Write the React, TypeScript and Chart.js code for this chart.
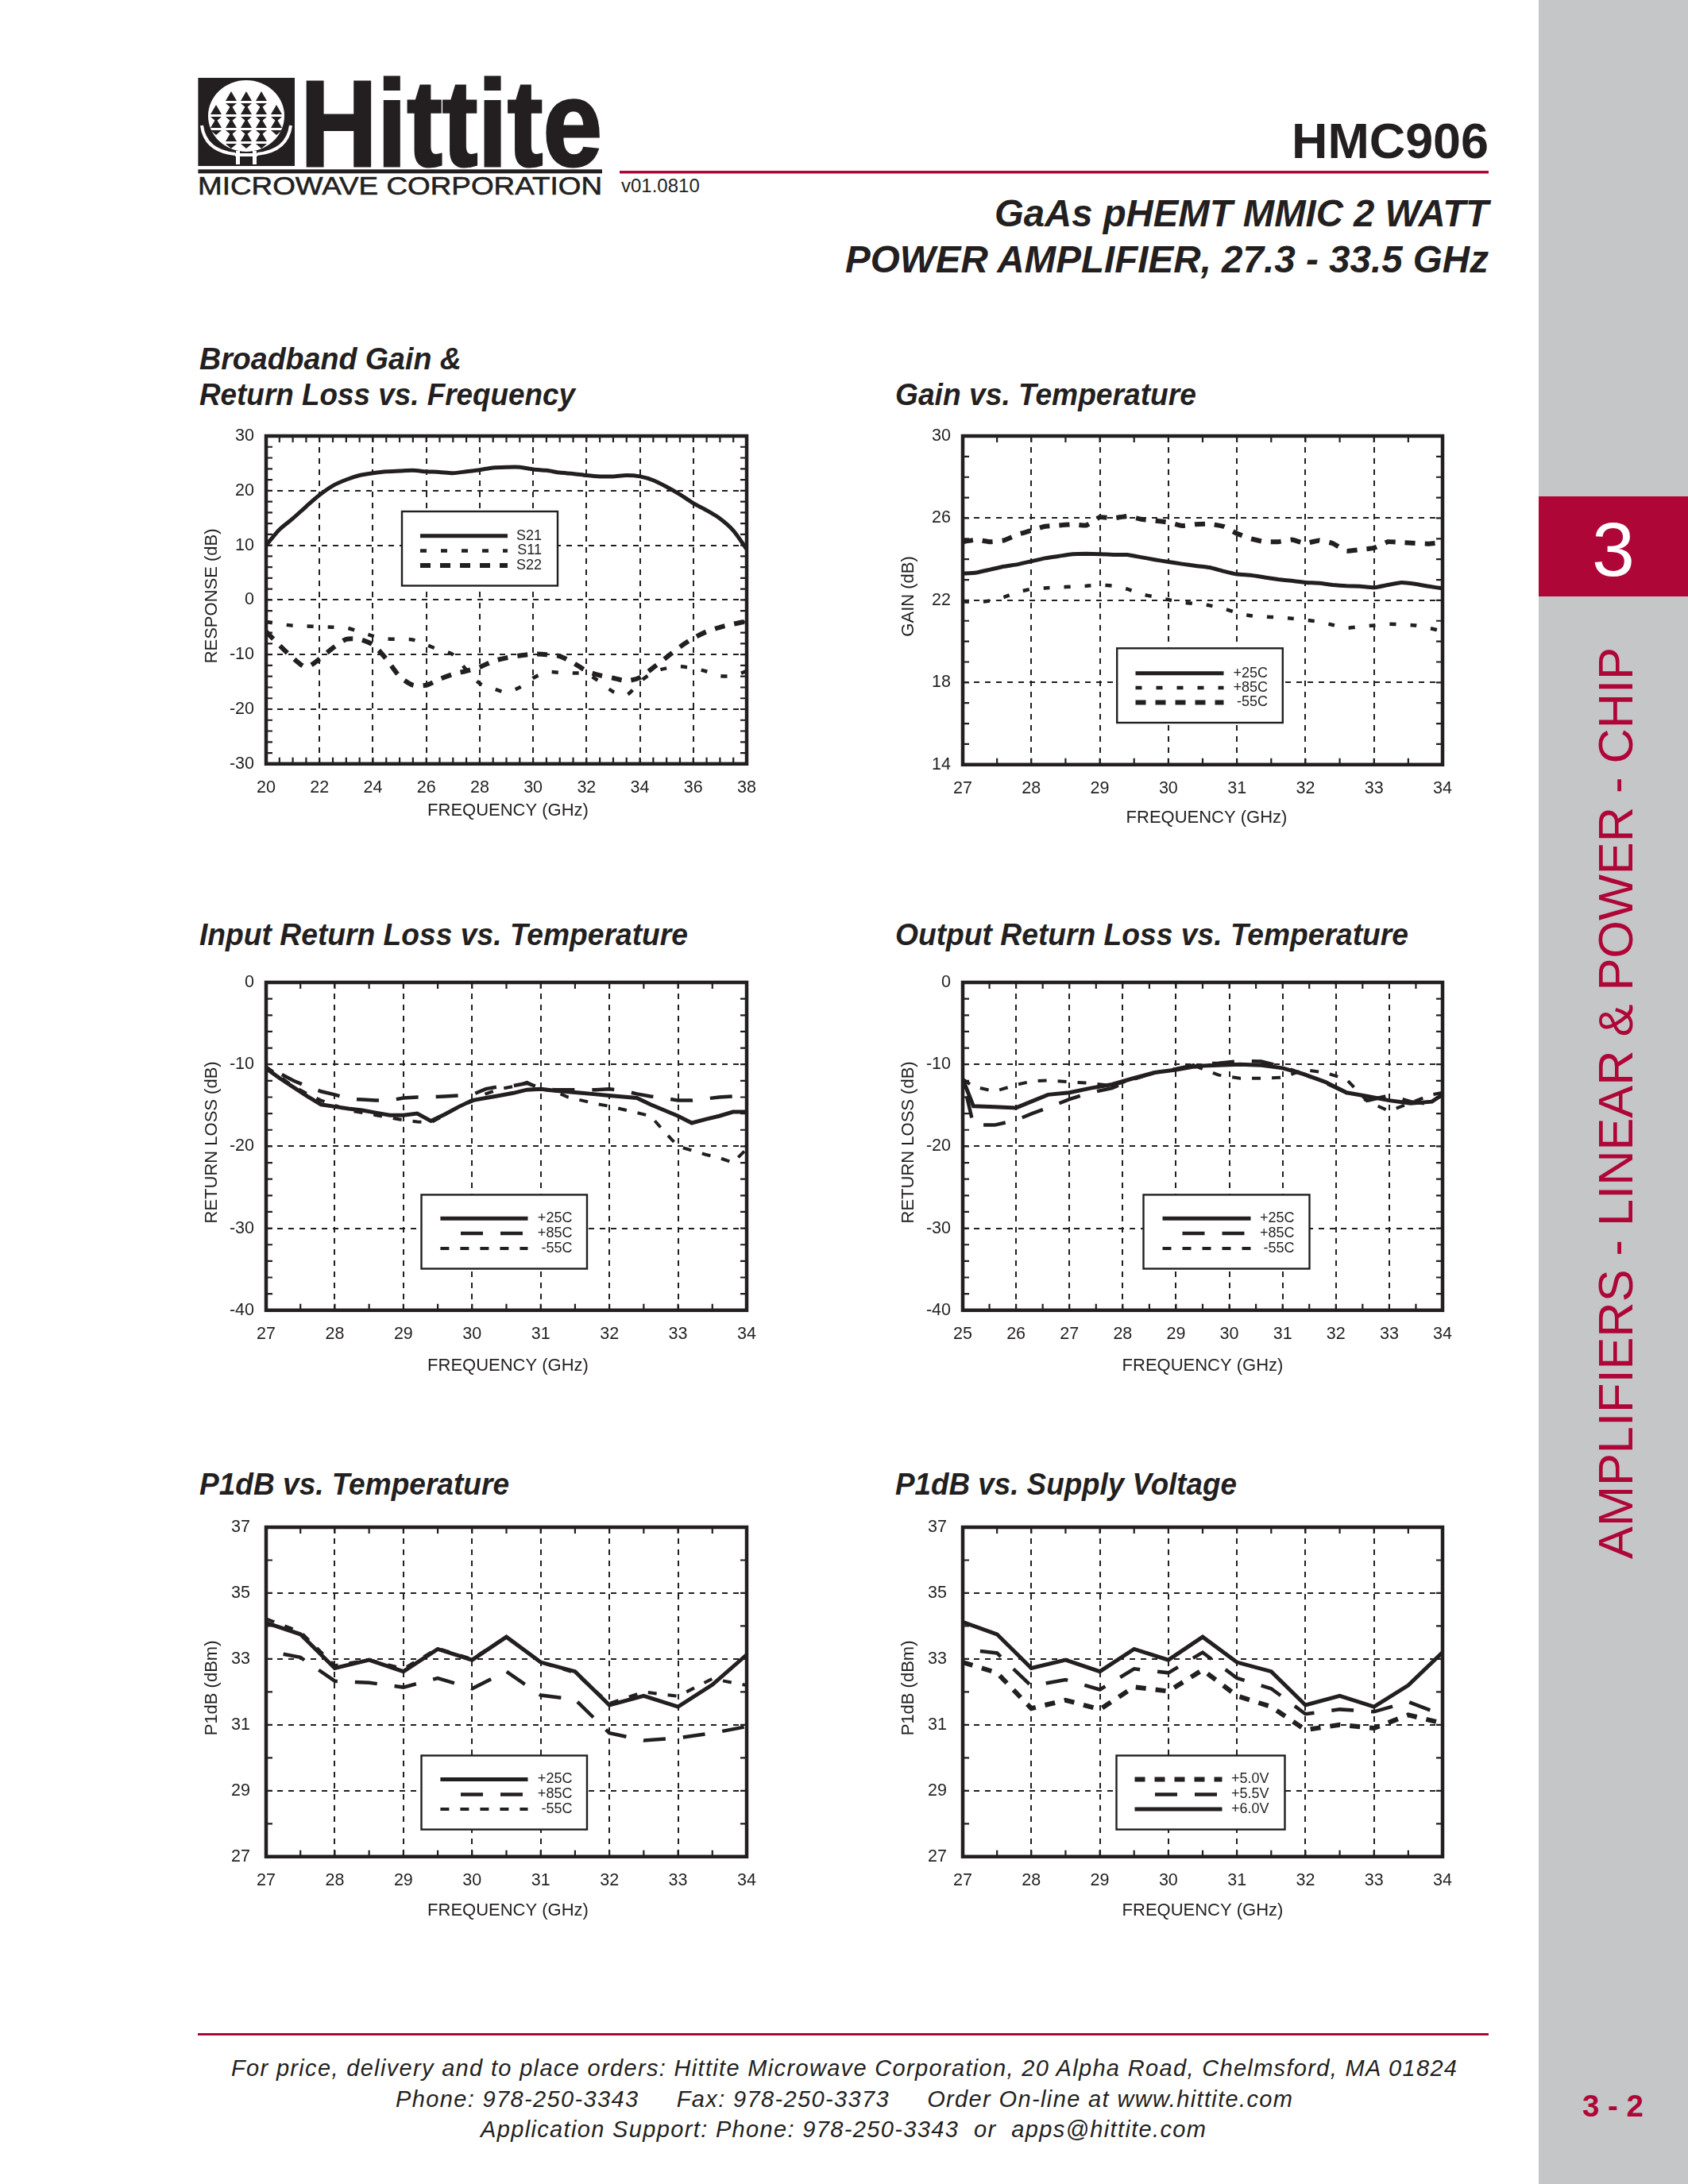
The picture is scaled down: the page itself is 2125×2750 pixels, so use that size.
import React, { useEffect, useRef } from "react";
import { Chart, registerables } from "chart.js";

Chart.register(...registerables);

const INK = "#231F20";
const RED = "#AF0638";
const SIDE = "#C5C6C8";
const SANS = '"Liberation Sans", Arial, sans-serif';

// ---------- data ----------
const freqBroad = [20,20.5,21,21.5,22,22.5,23,23.5,24,24.5,25,25.5,26,26.5,27,27.5,28,28.5,29,29.5,30,30.5,31,31.5,32,32.5,33,33.5,34,34.5,35,35.5,36,36.5,37,37.5,38];
const broadS21 = [10,12.9,14.9,17.1,19.2,20.9,22,22.8,23.2,23.5,23.6,23.7,23.5,23.4,23.2,23.5,23.8,24.2,24.3,24.3,23.9,23.7,23.3,23.1,22.8,22.6,22.6,22.8,22.6,21.9,20.7,19.3,17.7,16.4,14.9,12.7,9.3];
const broadS11 = [-4,-4.4,-4.7,-4.8,-4.9,-5,-5.1,-5.8,-6.6,-7.1,-7.2,-7.3,-8.2,-9.2,-10,-12.8,-15.3,-16.2,-16.9,-16,-14.3,-13.2,-13.3,-13.4,-13.5,-15,-16.8,-17.4,-15,-13.2,-12.5,-12.2,-12.5,-13.1,-13.9,-13.9,-13];
const broadS22 = [-5.8,-8.3,-10.6,-12.3,-10.8,-8.8,-7.2,-7.2,-8.2,-10.8,-14,-15.6,-15.6,-14.5,-13.6,-13,-12.3,-11.2,-10.6,-10.2,-9.9,-10,-10.3,-11.5,-13,-13.8,-14.3,-14.8,-14.2,-12.4,-10.5,-8.6,-7,-5.8,-5,-4.4,-3.9];

const freqFine = [27,27.2,27.4,27.6,27.8,28,28.2,28.4,28.6,28.8,29,29.2,29.4,29.6,29.8,30,30.2,30.4,30.6,30.8,31,31.2,31.4,31.6,31.8,32,32.2,32.4,32.6,32.8,33,33.2,33.4,33.6,33.8,34];
const gain25 = [23.3,23.35,23.5,23.65,23.75,23.9,24.05,24.15,24.25,24.27,24.25,24.22,24.22,24.1,23.98,23.87,23.77,23.68,23.6,23.42,23.27,23.22,23.12,23.02,22.95,22.87,22.84,22.75,22.7,22.68,22.62,22.75,22.87,22.8,22.68,22.58];
const gain85 = [21.95,21.9,21.98,22.15,22.4,22.55,22.6,22.63,22.67,22.7,22.75,22.7,22.55,22.3,22.17,22.03,21.9,21.83,21.75,21.6,21.4,21.25,21.2,21.17,21.12,21.05,20.95,20.8,20.65,20.72,20.78,20.85,20.82,20.78,20.65,20.5];
const gainM55 = [24.85,24.95,24.85,24.92,25.2,25.4,25.6,25.65,25.7,25.65,26.05,26,26.1,25.95,25.88,25.8,25.63,25.7,25.72,25.6,25.25,25,24.85,24.85,24.95,24.77,24.92,24.77,24.4,24.47,24.55,24.85,24.82,24.78,24.75,24.82];

const inRl25 = [-10.5,-11.7,-12.8,-13.9,-14.9,-15.15,-15.4,-15.6,-15.9,-16.2,-16.2,-16,-16.9,-16.1,-15.2,-14.4,-14.1,-13.8,-13.5,-13.1,-13,-13.2,-13.35,-13.5,-13.65,-13.8,-13.95,-14.1,-14.9,-15.6,-16.3,-17.15,-16.7,-16.3,-15.8,-15.8];
const inRl85 = [-10.3,-11.1,-12,-12.7,-13.3,-13.7,-14.2,-14.3,-14.4,-14.4,-14.1,-14,-14,-13.9,-13.8,-13.7,-13,-12.7,-12.6,-12.3,-12.9,-13.1,-13.1,-13.1,-13.1,-13,-13.2,-13.6,-13.9,-14.1,-14.4,-14.4,-14.2,-14,-13.9,-13.3];
const inRlM55 = [-10.3,-11.5,-12.7,-13.6,-14.4,-15,-15.6,-15.9,-16.2,-16.5,-16.8,-17,-17.1,-16.2,-15.2,-14.5,-13.6,-13,-12.7,-12.2,-13,-13.3,-14,-14.4,-14.8,-15.1,-15.5,-15.9,-16.3,-18.2,-20,-20.5,-21,-21.4,-22,-20.3];

const freqOut = [25,25.2,25.6,26,26.3,26.6,27,27.4,27.8,28.2,28.6,29,29.4,29.8,30.2,30.6,31,31.4,31.8,32.2,32.6,33,33.4,33.8,34];
const outRl25 = [-11.8,-15.1,-15.2,-15.3,-14.5,-13.7,-13.45,-12.9,-12.45,-11.7,-11,-10.65,-10.2,-10.1,-10,-10.1,-10.45,-11.2,-12.15,-13.45,-13.9,-14.4,-14.75,-14.55,-13.7];
const outRl85 = [-11.8,-17.4,-17.4,-16.8,-16,-15.3,-14.25,-13.45,-12.9,-11.8,-11,-10.55,-10,-9.85,-9.6,-9.65,-10.3,-11.2,-12.25,-13.45,-14.4,-13.8,-14.55,-14.85,-14.8];
const outRlM55 = [-11.8,-12.7,-13.3,-12.5,-12.05,-11.95,-12.15,-12.3,-12.6,-11.8,-11,-10.55,-10.3,-11.3,-11.7,-11.7,-11.6,-10.65,-11,-11.85,-14.55,-15.7,-14.7,-13.7,-13.45];

const freqHalf = [27,27.5,28,28.5,29,29.5,30,30.5,31,31.5,32,32.5,33,33.5,34];
const p1dB25 = [34.1,33.75,32.72,32.97,32.62,33.3,32.97,33.67,32.9,32.62,31.6,31.88,31.55,32.22,33.13];
const p1dB85 = [33.25,33.05,32.33,32.28,32.14,32.42,32.1,32.62,31.9,31.77,30.75,30.53,30.6,30.75,30.95];
const p1dBM55 = [34.22,33.82,32.8,32.97,32.7,33.32,33,33.67,32.9,32.58,31.65,32,31.87,32.4,32.2];

const p1dB5V0 = [32.9,32.58,31.5,31.75,31.47,32.15,32.02,32.67,31.88,31.55,30.85,31,30.9,31.3,31.05];
const p1dB5V5 = [33.3,33.18,32.18,32.37,32.07,32.7,32.58,33.2,32.42,32.1,31.33,31.47,31.4,31.7,31.3];
const p1dB6V0 = [34.12,33.75,32.72,32.97,32.62,33.3,32.97,33.67,32.9,32.62,31.6,31.88,31.55,32.2,33.2];

const labelsTemp = ["+25C", "+85C", "-55C"];
const labelsS = ["S21", "S11", "S22"];
const labelsV = ["+5.0V", "+5.5V", "+6.0V"];
const xTitle = "FREQUENCY (GHz)";

// ---------- line styles ----------
const STYLES: Record<string, { w: number; dash: number[]; offset: number }> = {
  solid: { w: 5, dash: [], offset: 0 },
  dots: { w: 4.5, dash: [8, 18], offset: 0 },
  bold: { w: 6, dash: [13, 12], offset: 0 },
  long: { w: 4.5, dash: [28, 22], offset: 28 },
  short: { w: 4, dash: [11, 14], offset: 0 },
};

type Spec = {
  plot: [number, number, number, number];
  x: [number, number, number, number]; // min, max, step, minor
  y: [number, number, number, number];
  yTitle: string;
  yPad: number;
  xTitleGap: number;
  xTitleShift: number;
  freq: number[];
  tension: number;
  series: { label: string; data: number[]; style: string }[];
  legend: { box: [number, number, number, number]; sample: [number, number]; textRight: number; rows: number[]; longStart?: number };
};

const L1 = 335, R1 = 939.5, L2 = 1211.5, R2 = 1815;

const specs: Spec[] = [
  {
    plot: [L1, 549, R1, 962], x: [20, 38, 2, 0.5], y: [-30, 30, 10, 2], yTitle: "RESPONSE (dB)", yPad: 15, xTitleGap: 59, xTitleShift: 2,
    freq: freqBroad, tension: 0.25,
    series: [
      { label: labelsS[0], data: broadS21, style: "solid" },
      { label: labelsS[1], data: broadS11, style: "dots" },
      { label: labelsS[2], data: broadS22, style: "bold" },
    ],
    legend: { box: [506, 644, 702, 737.5], sample: [529, 639], textRight: 682, rows: [674.7, 693.5, 712] },
  },
  {
    plot: [L2, 549, R2, 963], x: [27, 34, 1, 0.5], y: [14, 30, 4, 1], yTitle: "GAIN (dB)", yPad: 15, xTitleGap: 67, xTitleShift: 5,
    freq: freqFine, tension: 0.1,
    series: [
      { label: labelsTemp[0], data: gain25, style: "solid" },
      { label: labelsTemp[1], data: gain85, style: "dots" },
      { label: labelsTemp[2], data: gainM55, style: "bold" },
    ],
    legend: { box: [1405.7, 816.3, 1614.3, 910], sample: [1429, 1540], textRight: 1595.6, rows: [847.7, 866, 884.5] },
  },
  {
    plot: [L1, 1237, R1, 1650], x: [27, 34, 1, 0.5], y: [-40, 0, 10, 2], yTitle: "RETURN LOSS (dB)", yPad: 15, xTitleGap: 70, xTitleShift: 2,
    freq: freqFine, tension: 0,
    series: [
      { label: labelsTemp[0], data: inRl25, style: "solid" },
      { label: labelsTemp[1], data: inRl85, style: "long" },
      { label: labelsTemp[2], data: inRlM55, style: "short" },
    ],
    legend: { box: [530.5, 1504.4, 739, 1597.5], sample: [554.4, 664.5], textRight: 720.4, rows: [1534.3, 1553, 1572], longStart: 580 },
  },
  {
    plot: [L2, 1237, R2, 1650], x: [25, 34, 1, 0.5], y: [-40, 0, 10, 2], yTitle: "RETURN LOSS (dB)", yPad: 15, xTitleGap: 70, xTitleShift: 0,
    freq: freqOut, tension: 0,
    series: [
      { label: labelsTemp[0], data: outRl25, style: "solid" },
      { label: labelsTemp[1], data: outRl85, style: "long" },
      { label: labelsTemp[2], data: outRlM55, style: "short" },
    ],
    legend: { box: [1439, 1504.4, 1648, 1597.5], sample: [1463, 1574], textRight: 1629, rows: [1534.3, 1553, 1572], longStart: 1488 },
  },
  {
    plot: [L1, 1923, R1, 2337.5], x: [27, 34, 1, 0.5], y: [27, 37, 2, 1], yTitle: "P1dB (dBm)", yPad: 20, xTitleGap: 68, xTitleShift: 2,
    freq: freqHalf, tension: 0,
    series: [
      { label: labelsTemp[0], data: p1dB25, style: "solid" },
      { label: labelsTemp[1], data: p1dB85, style: "long" },
      { label: labelsTemp[2], data: p1dBM55, style: "short" },
    ],
    legend: { box: [530.5, 2210.5, 739, 2303.6], sample: [554.4, 664.5], textRight: 720.4, rows: [2240.4, 2259.5, 2278], longStart: 580 },
  },
  {
    plot: [L2, 1923, R2, 2337.5], x: [27, 34, 1, 0.5], y: [27, 37, 2, 1], yTitle: "P1dB (dBm)", yPad: 20, xTitleGap: 68, xTitleShift: 0,
    freq: freqHalf, tension: 0,
    series: [
      { label: labelsV[0], data: p1dB5V0, style: "bold" },
      { label: labelsV[1], data: p1dB5V5, style: "long" },
      { label: labelsV[2], data: p1dB6V0, style: "solid" },
    ],
    legend: { box: [1405, 2210.5, 1617, 2303.6], sample: [1428, 1538], textRight: 1597, rows: [2240.4, 2259.5, 2278], longStart: 1453.5 },
  },
];

const Y_W = 90;
const PAD_T = 44;
const PAD_R = 44;
const Y_TITLE_SHIFT = -5;

function stepsOf(min: number, max: number, step: number) {
  const out: number[] = [];
  const n = Math.round((max - min) / step);
  for (let i = 0; i <= n; i++) out.push(min + i * step);
  return out;
}

function nudgeTitle(scale: any, dx: number, dy: number) {
  if (scale._nudged) return;
  scale._nudged = true;
  const draw = scale.drawTitle;
  scale.drawTitle = function () {
    const ctx = scale.ctx;
    ctx.save();
    ctx.translate(dx, dy);
    draw.call(scale);
    ctx.restore();
  };
}

function PlotChart({ spec }: { spec: Spec }) {
  const ref = useRef<HTMLCanvasElement>(null);
  const [pl, pt, pr, pb] = spec.plot;
  const xH = spec.xTitleGap + 13.2 + 4;
  const cLeft = pl - Y_W;
  const cTop = pt - PAD_T;
  const cW = Math.round(pr - pl + Y_W + PAD_R);
  const cH = Math.round(pb - pt + PAD_T + xH);

  useEffect(() => {
    const canvas = ref.current;
    if (!canvas) return;
    const decor = {
      id: "decor",
      beforeDraw(chart: any) {
        nudgeTitle(chart.scales.x, spec.xTitleShift, 0);
        nudgeTitle(chart.scales.y, 0, Y_TITLE_SHIFT);
      },
      afterDatasetsDraw(chart: any) {
        const { ctx, chartArea: a, scales } = chart;
        const { x, y } = scales;
        ctx.save();
        ctx.strokeStyle = INK;
        ctx.setLineDash([]);
        ctx.lineWidth = 2.2;
        const tick = 8;
        ctx.beginPath();
        stepsOf(spec.x[0], spec.x[1], spec.x[3]).forEach((v) => {
          const p = x.getPixelForValue(v);
          ctx.moveTo(p, a.top); ctx.lineTo(p, a.top + tick);
          ctx.moveTo(p, a.bottom); ctx.lineTo(p, a.bottom - tick);
        });
        stepsOf(spec.y[0], spec.y[1], spec.y[3]).forEach((v) => {
          const p = y.getPixelForValue(v);
          ctx.moveTo(a.left, p); ctx.lineTo(a.left + tick, p);
          ctx.moveTo(a.right, p); ctx.lineTo(a.right - tick, p);
        });
        ctx.stroke();
        ctx.lineWidth = 4.5;
        ctx.strokeRect(a.left, a.top, a.right - a.left, a.bottom - a.top);

        // legend panel, placed in page coordinates
        const lg = spec.legend;
        const [bl, bt, br, bb] = lg.box;
        ctx.fillStyle = "#fff";
        ctx.fillRect(bl - cLeft, bt - cTop, br - bl, bb - bt);
        ctx.lineWidth = 2.4;
        ctx.strokeRect(bl - cLeft, bt - cTop, br - bl, bb - bt);
        ctx.font = `18px ${SANS}`;
        ctx.textAlign = "right";
        ctx.textBaseline = "middle";
        spec.series.forEach((s, i) => {
          const st = STYLES[s.style];
          const yy = lg.rows[i] - cTop;
          const x0 = (s.style === "long" && lg.longStart ? lg.longStart : lg.sample[0]) - cLeft;
          ctx.lineWidth = st.w;
          ctx.setLineDash(st.dash);
          ctx.beginPath();
          ctx.moveTo(x0, yy);
          ctx.lineTo(lg.sample[1] - cLeft, yy);
          ctx.stroke();
          ctx.setLineDash([]);
          ctx.fillStyle = INK;
          ctx.fillText(s.label, lg.textRight - cLeft, yy);
        });
        ctx.restore();
      },
    };
    const chart = new Chart(canvas, {
      type: "line",
      data: {
        datasets: spec.series.map((s) => ({
          label: s.label,
          data: s.data.map((v, i) => ({ x: spec.freq[i], y: v })),
          borderColor: INK,
          backgroundColor: INK,
          borderWidth: STYLES[s.style].w,
          borderDash: STYLES[s.style].dash,
          borderDashOffset: STYLES[s.style].offset,
          borderCapStyle: "butt",
          pointRadius: 0,
          tension: spec.tension,
          fill: false,
        })),
      },
      options: {
        responsive: false,
        animation: false,
        devicePixelRatio: 1,
        layout: { padding: { top: PAD_T, right: PAD_R, left: 0, bottom: 0 } },
        plugins: { legend: { display: false }, tooltip: { enabled: false }, title: { display: false } },
        scales: {
          x: {
            type: "linear",
            min: spec.x[0],
            max: spec.x[1],
            afterFit: (s: any) => { s.height = xH; },
            grid: { color: INK, lineWidth: 2, drawTicks: false },
            border: { display: false, dash: [7, 7] },
            ticks: { stepSize: spec.x[2], color: INK, font: { family: SANS, size: 21.5 }, padding: 17, maxRotation: 0, autoSkip: false },
            title: { display: true, text: xTitle, color: INK, font: { family: SANS, size: 22 }, padding: { top: 0, bottom: 4 } },
          },
          y: {
            type: "linear",
            min: spec.y[0],
            max: spec.y[1],
            afterFit: (s: any) => { s.width = Y_W; },
            grid: { color: INK, lineWidth: 2, drawTicks: false },
            border: { display: false, dash: [7, 7] },
            ticks: { stepSize: spec.y[2], color: INK, font: { family: SANS, size: 21.5 }, padding: spec.yPad, autoSkip: false },
            title: { display: true, text: spec.yTitle, color: INK, font: { family: SANS, size: 22 }, padding: { top: 8.3, bottom: 0 } },
          },
        },
      },
      plugins: [decor],
    } as any);
    return () => chart.destroy();
  }, []);

  return (
    <canvas
      ref={ref}
      width={cW}
      height={cH}
      style={{ position: "absolute", left: cLeft, top: cTop, width: cW, height: cH, display: "block" }}
    />
  );
}

// ---------- page text ----------
function T(p: any) {
  const { x, y, len, size, weight, italic, anchor, fill, adj, children, extra } = p;
  return (
    <text
      x={x}
      y={y}
      textLength={len}
      lengthAdjust={adj || "spacingAndGlyphs"}
      fontFamily={SANS}
      fontSize={size}
      fontWeight={weight || "normal"}
      fontStyle={italic ? "italic" : "normal"}
      textAnchor={anchor || "start"}
      fill={fill || INK}
      style={{ whiteSpace: "pre" }}
      {...extra}
    >
      {children}
    </text>
  );
}

const chartHeadings: [string, number, number, number][] = [
  ["Broadband Gain &", 251, 465, 330],
  ["Return Loss vs. Frequency", 251, 510, 473],
  ["Gain vs. Temperature", 1127, 510, 379],
  ["Input Return Loss vs. Temperature", 251, 1190, 615],
  ["Output Return Loss vs. Temperature", 1127, 1190, 646],
  ["P1dB vs. Temperature", 251, 1882, 390],
  ["P1dB vs. Supply Voltage", 1127, 1882, 430],
];

function Globe() {
  const tris: string[] = [];
  const cols = [272, 291, 310, 329, 348];
  const rows = [121, 138, 155, 172];
  cols.forEach((cx, c) =>
    rows.forEach((cy, r) => {
      if ((c === 0 || c === 4) && (r === 0 || r === 3)) return;
      tris.push(`${cx - 7},${cy + 6} ${cx + 7},${cy + 6} ${cx},${cy - 6}`);
      tris.push(`${cx - 7},${cy + 9} ${cx + 7},${cy + 9} ${cx},${cy + 15}`);
    })
  );
  return (
    <g>
      <rect x={249.4} y={98} width={121.6} height={111} fill={INK} />
      <ellipse cx={310} cy={146} rx={48} ry={45} fill="#fff" />
      <path d="M254 158 Q258 190 296 194 M366 158 Q362 190 324 194" stroke="#fff" strokeWidth={4} fill="none" />
      <rect x={297} y={190} width={5} height={17} fill="#fff" />
      <rect x={318} y={190} width={5} height={17} fill="#fff" />
      <rect x={296} y={193} width={28} height={4} fill="#fff" />
      {tris.map((t, i) => (
        <polygon key={i} points={t} fill={INK} />
      ))}
    </g>
  );
}

export default function App() {
  useEffect(() => {
    document.body.style.margin = "0";
  }, []);
  return (
    <div style={{ position: "absolute", left: 0, top: 0, width: 2125, height: 2750, overflow: "hidden", background: "#fff" }}>
      <svg width={2125} height={2750} style={{ position: "absolute", left: 0, top: 0, display: "block" }}>
        <rect x={1937} y={0} width={188} height={2750} fill={SIDE} />
        <rect x={1937} y={625} width={188} height={126} fill={RED} />
        <T x={2031} y={725} size={97} anchor="middle" fill="#fff">3</T>
        <g transform="translate(2055 1963) rotate(-90)">
          <T x={0} y={0} size={62} fill={RED} len={1148}>AMPLIFIERS - LINEAR &amp; POWER - CHIP</T>
        </g>
        <T x={1992} y={2665} size={38} weight="bold" fill={RED} len={77}>3 - 2</T>

        <Globe />
        <T x={378} y={209} size={154} weight="bold" len={380} extra={{ stroke: INK, strokeWidth: 3 }}>Hittite</T>
        <rect x={249.4} y={213.3} width={508.6} height={5} fill={INK} />
        <T x={249} y={245} size={32} len={509} extra={{ stroke: INK, strokeWidth: 0.6 }}>MICROWAVE CORPORATION</T>
        <T x={782} y={242} size={24}>v01.0810</T>

        <rect x={780} y={215} width={1094} height={3.5} fill={RED} />
        <T x={1626} y={199} size={63} weight="bold" len={248}>HMC906</T>
        <T x={1252} y={285} size={47.5} weight="bold" italic len={622}>GaAs pHEMT MMIC 2 WATT</T>
        <T x={1064} y={343} size={47.5} weight="bold" italic len={810}>POWER AMPLIFIER, 27.3 - 33.5 GHz</T>

        {chartHeadings.map(([s, x, y, len]) => (
          <T key={s} x={x} y={y} size={38} weight="bold" italic len={len}>{s}</T>
        ))}

        <rect x={249} y={2560} width={1625} height={3} fill={RED} />
        <T x={291} y={2614} size={29} italic len={1543} adj="spacing">For price, delivery and to place orders: Hittite Microwave Corporation, 20 Alpha Road, Chelmsford, MA 01824</T>
        <T x={498} y={2653} size={29} italic len={1129} adj="spacing">{"Phone: 978-250-3343     Fax: 978-250-3373     Order On-line at www.hittite.com"}</T>
        <T x={605} y={2691} size={29} italic len={913} adj="spacing">{"Application Support: Phone: 978-250-3343  or  apps@hittite.com"}</T>
      </svg>
      {specs.map((s, i) => (
        <PlotChart key={i} spec={s} />
      ))}
    </div>
  );
}
